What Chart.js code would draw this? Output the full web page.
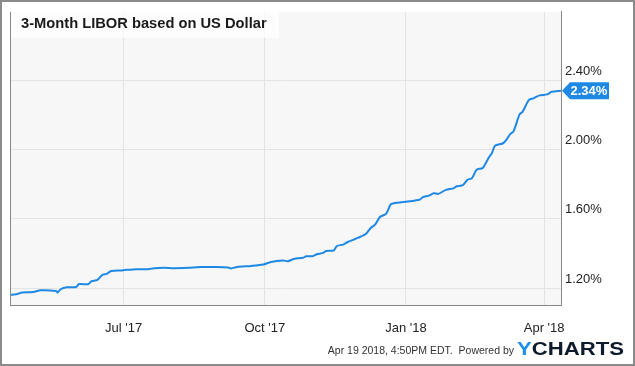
<!DOCTYPE html>
<html>
<head>
<meta charset="utf-8">
<title>3-Month LIBOR based on US Dollar</title>
<script src="https://cdn.jsdelivr.net/npm/chart.js@4.4.1/dist/chart.umd.min.js"></script>
<style>
    html, body { margin: 0; padding: 0; background: #fff; }
    #wrap { width: 635px; height: 366px; }
</style>
</head>
<body>
<div id="wrap"><canvas id="libor" width="635" height="366"></canvas></div>
<script>
// --- DATA (day = days since 1 Jan 2017) ---
const days = [107, 111, 115, 122, 127, 137, 138, 140, 144, 150,
    152, 158, 160, 164, 167, 170, 173, 180, 189, 197,
    201, 207, 214, 223, 231, 240, 249, 251, 255, 264,
    272, 277, 285, 288, 292, 298, 300, 304, 307, 311,
    313, 318, 320, 324, 327, 331, 334, 339, 342, 345,
    348, 352, 355, 357, 366, 371, 374, 376, 380, 383,
    386, 391, 396, 398, 402, 405, 408, 411, 415, 419,
    421, 423, 428, 430, 433, 435, 439, 441, 445, 448,
    452, 457, 460, 466];
const libor = [1.160, 1.164, 1.174, 1.177, 1.187, 1.183, 1.174, 1.193, 1.204, 1.206,
    1.223, 1.222, 1.239, 1.247, 1.275, 1.282, 1.299, 1.302, 1.309, 1.309,
    1.315, 1.317, 1.315, 1.317, 1.321, 1.321, 1.319, 1.313, 1.322, 1.328,
    1.336, 1.351, 1.359, 1.355, 1.368, 1.375, 1.384, 1.384, 1.395, 1.403,
    1.414, 1.418, 1.443, 1.451, 1.466, 1.480, 1.491, 1.514, 1.547, 1.568,
    1.610, 1.629, 1.683, 1.690, 1.700, 1.706, 1.711, 1.725, 1.734, 1.748,
    1.744, 1.767, 1.776, 1.788, 1.794, 1.825, 1.835, 1.884, 1.894, 1.955,
    1.980, 2.022, 2.035, 2.051, 2.091, 2.104, 2.203, 2.219, 2.286, 2.296,
    2.313, 2.319, 2.334, 2.340];

const xTickDays = [181, 273, 365, 455];
const xTickLabels = ["Jul '17", "Oct '17", "Jan '18", "Apr '18"];
const yTicks = [1.2, 1.6, 2.0, 2.4];

const TITLE = '3-Month LIBOR based on US Dollar';
const FOOTER = 'Apr 19 2018, 4:50PM EDT.  Powered by';

// --- COLORS ---
const BLUE = '#1e88e5';
const FONT = '"Liberation Sans", Arial, sans-serif';

// --- DECORATION PLUGIN ---
const ychartsDecor = {
    id: 'ychartsDecor',
    beforeDraw(chart) {
        const { ctx, chartArea: a } = chart;
        ctx.save();
        ctx.fillStyle = '#fff';
        ctx.fillRect(0, 0, chart.width, chart.height);
        ctx.fillStyle = '#f7f7f7';
        ctx.fillRect(a.left, a.top, a.right - a.left, a.bottom - a.top);
        ctx.restore();
    },
    afterDraw(chart) {
        const { ctx, chartArea: a } = chart;
        const yScale = chart.scales.y;
        ctx.save();

        // left border of plot
        ctx.strokeStyle = '#888';
        ctx.lineWidth = 1;
        ctx.beginPath();
        ctx.moveTo(a.left + 0.5, a.top);
        ctx.lineTo(a.left + 0.5, a.bottom);
        ctx.stroke();

        // title box
        ctx.fillStyle = 'rgba(255,255,255,0.7)';
        ctx.fillRect(a.left + 1, a.top, 268, 26);
        ctx.fillStyle = '#1a1a1a';
        ctx.font = 'bold 14.7px ' + FONT;
        ctx.textBaseline = 'alphabetic';
        ctx.textAlign = 'left';
        ctx.fillText(TITLE, 21, 28);

        // last value tag
        const last = libor[libor.length - 1];
        const ty = yScale.getPixelForValue(last);
        const tx = a.right + 1;
        ctx.fillStyle = BLUE;
        ctx.beginPath();
        ctx.moveTo(tx, ty);
        ctx.lineTo(tx + 8, ty - 8.5);
        ctx.lineTo(tx + 47, ty - 8.5);
        ctx.lineTo(tx + 47, ty + 8.5);
        ctx.lineTo(tx + 8, ty + 8.5);
        ctx.closePath();
        ctx.fill();
        ctx.fillStyle = '#fff';
        ctx.font = 'bold 13px ' + FONT;
        ctx.textBaseline = 'middle';
        ctx.fillText(last.toFixed(2) + '%', tx + 8.5, ty + 0.5);

        // footer
        ctx.textBaseline = 'alphabetic';
        ctx.textAlign = 'right';
        ctx.fillStyle = '#333';
        ctx.font = '10.5px ' + FONT;
        ctx.fillText(FOOTER, 514, 354);

        // logo
        ctx.textAlign = 'left';
        ctx.font = 'bold 17.7px ' + FONT;
        const yW = ctx.measureText('Y').width;
        const fullW = ctx.measureText('YCHARTS').width;
        const sx = 107 / fullW;
        ctx.translate(517, 355);
        ctx.scale(sx, 1);
        ctx.fillStyle = '#1f8ff0';
        ctx.fillText('Y', 0, 0);
        ctx.fillStyle = '#0e1b2c';
        ctx.fillText('CHARTS', yW, 0);
        ctx.setTransform(1, 0, 0, 1, 0, 0);

        // outer frame
        ctx.strokeStyle = '#8a8a8a';
        ctx.lineWidth = 2;
        ctx.strokeRect(1, 1, chart.width - 2, chart.height - 2);
        ctx.restore();
    }
};

// --- CHART ---
const ctx = document.getElementById('libor').getContext('2d');
new Chart(ctx, {
    type: 'line',
    data: {
        datasets: [{
            data: days.map((d, i) => ({ x: d, y: libor[i] })),
            borderColor: BLUE,
            borderWidth: 2,
            pointRadius: 0,
            tension: 0.25,
            fill: false
        }]
    },
    options: {
        responsive: false,
        devicePixelRatio: 1,
        animation: false,
        layout: { padding: { left: 10, top: 10, right: 0, bottom: 0 } },
        plugins: { legend: { display: false }, tooltip: { enabled: false } },
        scales: {
            x: {
                type: 'linear',
                min: 107,
                max: 466,
                afterBuildTicks: (scale) => { scale.ticks = xTickDays.map(v => ({ value: v })); },
                afterFit: (scale) => { scale.height = 61; },
                grid: { color: '#e3e3e3', drawTicks: false },
                border: { color: '#888' },
                ticks: {
                    padding: 16,
                    color: '#222',
                    font: { family: FONT, size: 13 },
                    maxRotation: 0,
                    callback: (v) => xTickLabels[xTickDays.indexOf(v)]
                }
            },
            y: {
                position: 'right',
                min: 1.102,
                max: 2.796,
                afterBuildTicks: (scale) => { scale.ticks = yTicks.map(v => ({ value: v })); },
                afterFit: (scale) => { scale.width = 74; },
                grid: { color: '#e3e3e3', drawTicks: false },
                border: { color: '#888' },
                ticks: {
                    padding: 4,
                    labelOffset: -9,
                    color: '#222',
                    font: { family: FONT, size: 13 },
                    callback: (v) => v.toFixed(2) + '%'
                }
            }
        }
    },
    plugins: [ychartsDecor]
});
</script>
</body>
</html>
